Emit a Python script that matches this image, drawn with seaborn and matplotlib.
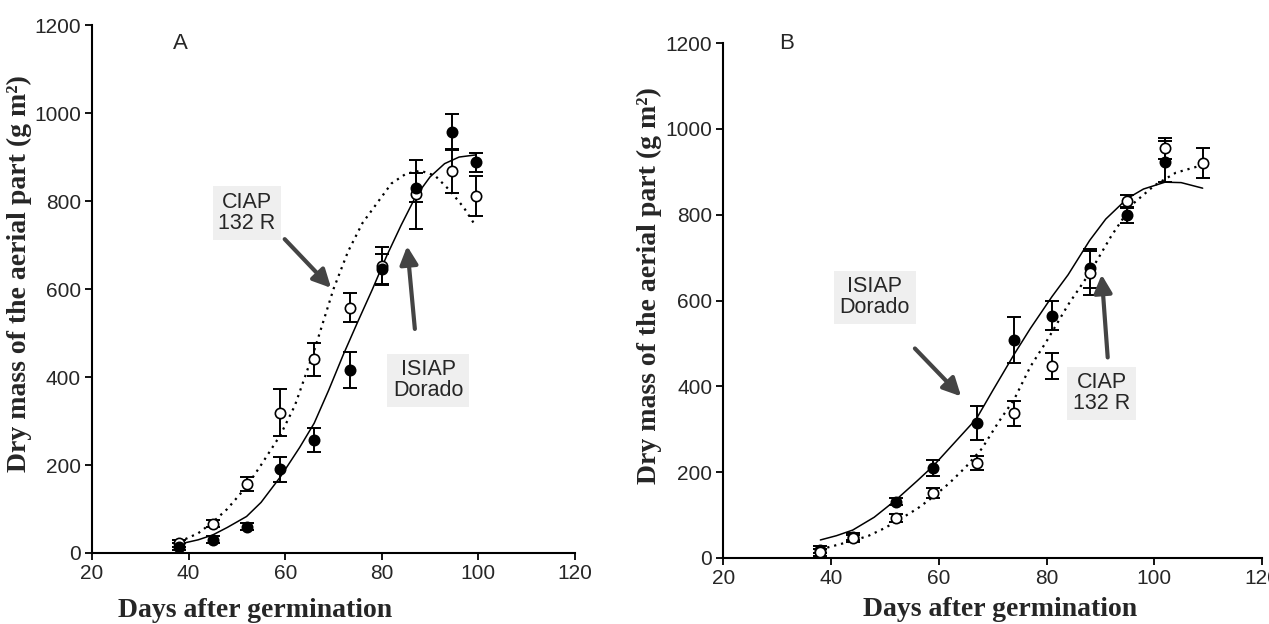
import matplotlib
matplotlib.use("Agg")
import matplotlib.pyplot as plt
import seaborn as sns
import pandas as pd

# ---------------- Data: panel A ----------------
days_a = [38, 45, 52, 59, 66, 73.5, 80, 87, 94.5, 99.5]
ciap_a = [22, 67, 156, 319, 440, 558, 653, 815, 869, 811]
ciap_a_err = [8, 8, 16, 54, 38, 32, 42, 78, 50, 45]
isiap_a = [14, 30, 60, 190, 257, 416, 645, 830, 958, 888]
isiap_a_err = [8, 8, 8, 29, 27, 42, 35, 33, 41, 22]

fit_isiap_a_x = [38, 42, 45, 48, 52, 55, 59, 63, 66, 69, 72, 75, 78, 81, 84, 87, 90, 93, 96, 99.5]
fit_isiap_a_y = [20, 30, 41, 58, 83, 115, 173, 240, 295, 370, 450, 525, 598, 675, 745, 810, 855, 885, 900, 905]
fit_ciap_a_x = [38, 42, 45, 48, 52, 55, 59, 62, 66, 70, 73, 76, 79, 82, 85, 88, 91, 94, 97, 99.5]
fit_ciap_a_y = [25, 45, 70, 100, 151, 200, 268, 335, 460, 600, 685, 750, 795, 840, 862, 869, 858, 825, 785, 742]

# ---------------- Data: panel B ----------------
days_b_isiap = [38, 44, 52, 59, 67, 74, 81, 88, 95, 102]
isiap_b = [19, 50, 131, 209, 315, 508, 565, 675, 800, 924]
isiap_b_err = [8, 8, 8, 19, 39, 54, 33, 45, 18, 48]
days_b_ciap = [38, 44, 52, 59, 67, 74, 81, 88, 95, 102, 109]
ciap_b = [13, 46, 93, 151, 221, 337, 448, 664, 831, 955, 920]
ciap_b_err = [8, 8, 10, 12, 16, 30, 30, 52, 15, 25, 35]

fit_isiap_b_x = [38, 41, 44, 48, 52, 56, 59, 63, 67, 70, 74, 77, 81, 84, 88, 91, 95, 98, 102, 105, 109]
fit_isiap_b_y = [42, 52, 65, 95, 135, 180, 215, 270, 325, 390, 475, 535, 609, 660, 740, 790, 838, 860, 876, 875, 862]
fit_ciap_b_x = [38, 41, 44, 47, 50, 53, 56, 59, 62, 65, 68, 71, 74, 77, 80, 84, 88, 92, 96, 100, 104, 109]
fit_ciap_b_y = [20, 30, 40, 52, 70, 92, 115, 143, 175, 212, 255, 315, 370, 446, 505, 590, 664, 750, 825, 868, 898, 916]

x_ticks = [20, 40, 60, 80, 100, 120]
y_ticks = [0, 200, 400, 600, 800, 1000, 1200]
y_label = "Dry mass of the aerial part (g m\u00b2)"
x_label = "Days after germination"

sns.set_theme(style="ticks")
plt.rcParams["font.family"] = ["Liberation Sans", "DejaVu Sans"]

fig = plt.figure(figsize=(12.69, 6.24), dpi=100)
ax_a = fig.add_axes([0.0725, 0.1138, 0.3806, 0.846])
ax_b = fig.add_axes([0.5701, 0.1058, 0.4243, 0.825])

serif = ["Liberation Serif", "DejaVu Serif"]


def draw_panel(ax, dx_open, open_y, open_err, dx_fill, fill_y, fill_err,
               sx, sy, dxx, dyy, open_on_top):
    # fitted curves
    sns.lineplot(x=sx, y=sy, ax=ax, color="black", lw=1.1, sort=False)
    sns.lineplot(x=dxx, y=dyy, ax=ax, color="black", lw=1.6, sort=False,
                 linestyle=(0, (1, 2.2)))
    order = [("fill", dx_fill, fill_y, fill_err), ("open", dx_open, open_y, open_err)]
    if not open_on_top:
        order = order[::-1]
    for kind, xs, ys, es in order:
        ax.errorbar(xs, ys, yerr=es, fmt="none", ecolor="black", elinewidth=1.4,
                    capsize=5, capthick=1.4, zorder=3)
        df = pd.DataFrame({"x": xs, "y": ys})
        sns.scatterplot(data=df, x="x", y="y", ax=ax, s=55, zorder=4,
                        color="black" if kind == "fill" else "white",
                        edgecolor="black", linewidth=1.2)
    ax.set_xlim(20, 120)
    ax.set_ylim(0, 1200)
    ax.set_xticks(x_ticks)
    ax.set_yticks(y_ticks)
    ax.tick_params(labelsize=15, length=5, width=1.3, color="black", direction="out",
                   pad=3)
    for s in ["top", "right"]:
        ax.spines[s].set_visible(False)
    for s in ["left", "bottom"]:
        ax.spines[s].set_linewidth(1.5)
        ax.spines[s].set_color("black")
    ax.set_ylabel(y_label, family=serif, fontweight="bold", fontsize=20, va="center")
    ax.set_xlabel(x_label, family=serif, fontweight="bold", fontsize=20, va="center")


draw_panel(ax_a, days_a, ciap_a, ciap_a_err, days_a, isiap_a, isiap_a_err,
           fit_isiap_a_x, fit_isiap_a_y, fit_ciap_a_x, fit_ciap_a_y, open_on_top=False)
draw_panel(ax_b, days_b_ciap, ciap_b, ciap_b_err, days_b_isiap, isiap_b, isiap_b_err,
           fit_isiap_b_x, fit_isiap_b_y, fit_ciap_b_x, fit_ciap_b_y, open_on_top=True)

ax_a.yaxis.set_label_coords(-0.150, 0.53)
ax_a.xaxis.set_label_coords(0.337, -0.108)
ax_b.yaxis.set_label_coords(-0.137, 0.53)
ax_b.xaxis.set_label_coords(0.513, -0.101)

ax_a.text(38.2, 1159, "A", fontsize=16, ha="center", va="center")
ax_b.text(31.7, 1200, "B", fontsize=16, ha="center", va="center")

box = dict(facecolor="#efefef", edgecolor="none", pad=4)
arrow = dict(arrowstyle="-|>,head_length=0.9,head_width=0.45", color="#444444", lw=3)

ax_a.text(52.1, 773, "CIAP\n132 R", fontsize=15.5, ha="center", va="center",
          linespacing=1.0, bbox=box)
ax_a.annotate("", xy=(69.9, 598), xytext=(59.5, 718), arrowprops=arrow)
ax_a.text(89.6, 393, "ISIAP\nDorado", fontsize=15.5, ha="center", va="center",
          linespacing=1.0, bbox=box)
ax_a.annotate("", xy=(85.2, 704), xytext=(86.9, 503), arrowprops=arrow)

ax_b.text(48.1, 608, "ISIAP\nDorado", fontsize=15.5, ha="center", va="center",
          linespacing=1.0, bbox=box)
ax_b.annotate("", xy=(64.5, 372), xytext=(55.2, 493), arrowprops=arrow)
ax_b.text(90.2, 384, "CIAP\n132 R", fontsize=15.5, ha="center", va="center",
          linespacing=1.0, bbox=box)
ax_b.annotate("", xy=(90.2, 667), xytext=(91.4, 461), arrowprops=arrow)

fig.savefig("out.png", dpi=100, facecolor="white")
